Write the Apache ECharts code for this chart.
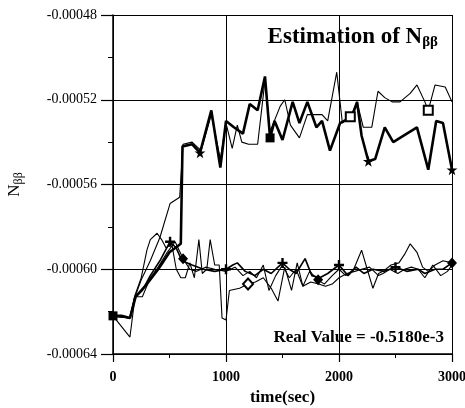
<!DOCTYPE html>
<html>
<head>
<meta charset="utf-8">
<script src="https://cdn.jsdelivr.net/npm/echarts@6/dist/echarts.min.js"></script>
<style>
  html, body { margin: 0; padding: 0; background: #fff; }
  #chart { width: 465px; height: 408px; }
</style>
</head>
<body>
<div id="chart"></div>
<script>
// Estimates of N_ββ over time, values stored in units of 1e-6.
const SCALE = 1e-6;
const realValue = -518.0;          // true N_ββ (-0.5180e-3)

const xTicks = [0, 1000, 2000, 3000];
const yTicks = [-640, -600, -560, -520, -480];

// Upper group (heavy line with stars)
const estHeavy = [
  [0, -622], [75, -622], [150, -623], [200, -613], [300, -607], [400, -600],
  [500, -592], [600, -588], [615, -542], [700, -541], [770, -545], [870, -525],
  [950, -552], [1000, -530], [1070, -533], [1150, -536], [1210, -522], [1280, -525],
  [1345, -509], [1390, -538], [1430, -530], [1500, -539], [1590, -521], [1650, -531],
  [1720, -521], [1800, -533], [1850, -530], [1920, -544], [2010, -531], [2115, -528],
  [2160, -521], [2200, -537], [2260, -549], [2320, -548], [2405, -533], [2480, -540],
  [2540, -538], [2690, -533], [2790, -553], [2860, -530], [2920, -531], [3000, -553]
];
const marksHeavy = { 0: 'square', 770: 'star', 1390: 'square', 2260: 'star', 3000: 'star' };

// Upper group (light line with open squares)
const estLight = [
  [0, -622], [150, -632], [195, -613], [250, -605], [330, -596], [415, -585],
  [505, -569], [590, -566], [620, -541], [700, -540], [780, -544], [870, -527],
  [950, -548], [1000, -531], [1055, -543], [1100, -532], [1140, -540], [1200, -541],
  [1280, -541], [1345, -511], [1390, -535], [1480, -523], [1520, -520], [1570, -532],
  [1650, -538], [1720, -527], [1780, -527], [1850, -527], [1900, -530], [1980, -507],
  [2030, -531], [2100, -528], [2160, -521], [2215, -533], [2290, -533], [2345, -516],
  [2405, -519], [2470, -521], [2540, -521], [2630, -517], [2690, -513], [2760, -521],
  [2790, -525], [2850, -513], [2940, -514], [3000, -521]
];
const marksLight = { 2100: 'openSquare', 2790: 'openSquare' };

// Lower group (plus markers)
const estPlus = [
  [0, -622], [150, -623], [195, -613], [260, -610], [330, -603], [415, -596],
  [505, -587], [560, -590], [610, -596], [700, -598], [800, -600], [900, -601],
  [1000, -600], [1060, -598], [1100, -597], [1170, -601], [1255, -603], [1330, -600],
  [1400, -602], [1500, -597], [1560, -600], [1620, -602], [1700, -595], [1760, -603],
  [1830, -604], [1900, -602], [2000, -598], [2080, -603], [2150, -599], [2220, -602],
  [2300, -600], [2400, -601], [2500, -599], [2600, -601], [2700, -600], [2760, -602],
  [2850, -600], [2920, -600], [3000, -597]
];
const marksPlus = { 505: 'plus', 1000: 'plus', 1500: 'plus', 2000: 'plus', 2500: 'plus' };

// Lower group (filled diamonds)
const estDiamond = [
  [0, -622], [150, -623], [195, -613], [260, -613], [330, -604], [400, -599],
  [480, -592], [550, -587], [620, -595], [680, -600], [740, -601], [820, -599],
  [900, -600], [1000, -601], [1080, -599], [1150, -603], [1210, -601], [1270, -604],
  [1330, -598], [1380, -610], [1440, -603], [1500, -598], [1560, -604], [1620, -600],
  [1680, -608], [1740, -601], [1815, -605], [1870, -607], [1940, -603], [2000, -600],
  [2060, -603], [2130, -600], [2200, -591], [2250, -600], [2300, -609], [2350, -602],
  [2390, -601], [2460, -598], [2530, -597], [2580, -593], [2630, -588], [2690, -592],
  [2740, -599], [2790, -601], [2850, -598], [2920, -596], [3000, -597]
];
const marksDiamond = { 620: 'diamond', 1815: 'diamond', 3000: 'diamond' };

// Lower group (open diamonds)
const estOpenDiamond = [
  [0, -622], [150, -623], [190, -613], [250, -604], [300, -591], [330, -586],
  [390, -583], [430, -586], [470, -590], [520, -588], [560, -600], [600, -604],
  [640, -604], [680, -597], [720, -604], [760, -586], [790, -602], [830, -600],
  [860, -586], [900, -598], [940, -598], [965, -623], [1000, -624], [1030, -610],
  [1120, -609], [1195, -607], [1260, -606], [1330, -604], [1400, -609], [1460, -615],
  [1520, -599], [1580, -610], [1630, -597], [1680, -608], [1750, -606], [1820, -607],
  [1880, -608], [1940, -607], [2000, -604], [2070, -602], [2140, -601], [2200, -600],
  [2270, -599], [2350, -603], [2390, -602], [2450, -600], [2520, -602], [2580, -600],
  [2640, -599], [2700, -600], [2760, -604], [2830, -598], [2900, -603], [2960, -601],
  [3000, -598]
];
const marksOpenDiamond = { 1195: 'openDiamond' };

const STAR = 'path://M50,0 L61,35 L98,35 L68,57 L79,91 L50,70 L21,91 L32,57 L2,35 L39,35 Z';
const PLUS = 'path://M38,0 H62 V38 H100 V62 H62 V100 H38 V62 H0 V38 H38 Z';
const MARKERS = {
  square:      { symbol: 'rect', symbolSize: 9, itemStyle: { color: '#000' } },
  openSquare:  { symbol: 'rect', symbolSize: 9, itemStyle: { color: '#fff', borderColor: '#000', borderWidth: 2 } },
  star:        { symbol: STAR, symbolSize: 11, itemStyle: { color: '#000' } },
  plus:        { symbol: PLUS, symbolSize: 10, itemStyle: { color: '#000' } },
  diamond:     { symbol: 'diamond', symbolSize: [10, 11], itemStyle: { color: '#000' } },
  openDiamond: { symbol: 'diamond', symbolSize: [10, 11], itemStyle: { color: '#fff', borderColor: '#000', borderWidth: 2 } }
};

function lineSeries(points, marks, width, extra) {
  return Object.assign({
    type: 'line',
    symbol: 'none',
    showSymbol: true,
    silent: true,
    animation: false,
    lineStyle: { color: '#000', width: width },
    itemStyle: { color: '#000' },
    data: points.map(([t, v]) => {
      const item = { value: [t, v * SCALE] };
      if (marks[t]) Object.assign(item, MARKERS[marks[t]]);
      else item.symbol = 'none';
      return item;
    })
  }, extra || {});
}

const serif = '"Liberation Serif", "DejaVu Serif", serif';

const chart = echarts.init(document.getElementById('chart'), null, { renderer: 'canvas' });
chart.setOption({
  backgroundColor: '#fff',
  animation: false,
  grid: { left: 113, right: 13, top: 15, bottom: 54, outerBoundsMode: 'none' },
  title: {
    text: '{a|Estimation of N}{s|ββ}',
    right: 22, top: 19,
    textStyle: {
      rich: {
        a: { fontFamily: serif, fontWeight: 'bold', fontSize: 23, color: '#000' },
        s: { fontFamily: serif, fontSize: 15, color: '#000', padding: [11, 0, 0, 0] }
      }
    }
  },
  graphic: [{
    type: 'text', right: 21, top: 329,
    style: { text: 'Real Value = -0.5180e-3', fontFamily: serif, fontWeight: 'bold', fontSize: 17, fill: '#000' }
  }],
  xAxis: {
    type: 'value', min: xTicks[0], max: xTicks[xTicks.length - 1], interval: xTicks[1] - xTicks[0],
    name: 'time(sec)', nameLocation: 'middle', nameGap: 34,
    nameTextStyle: { fontFamily: serif, fontWeight: 'bold', fontSize: 17, color: '#000' },
    axisLine: { lineStyle: { color: '#000', width: 1.5 } },
    axisTick: { show: true, length: 8, lineStyle: { color: '#000', width: 1.2 } },
    minorTick: { show: true, splitNumber: 2, length: 4, lineStyle: { color: '#000' } },
    axisLabel: {
      margin: 16, fontFamily: serif, fontWeight: 'bold', fontSize: 14, color: '#000',
      formatter: v => String(v)
    },
    splitLine: { show: true, lineStyle: { color: '#000', width: 1 } }
  },
  yAxis: {
    type: 'value', min: yTicks[0] * SCALE, max: yTicks[yTicks.length - 1] * SCALE,
    interval: (yTicks[1] - yTicks[0]) * SCALE,
    name: '{a|N}{s|ββ}', nameLocation: 'middle', nameGap: 88, nameRotate: 90,
    nameTextStyle: {
      rich: {
        a: { fontFamily: serif, fontSize: 17, color: '#000' },
        s: { fontFamily: serif, fontSize: 12, color: '#000', padding: [8, 0, 0, 0] }
      }
    },
    axisLine: { lineStyle: { color: '#000', width: 1.5 } },
    axisTick: { show: true, length: 12, lineStyle: { color: '#000', width: 1.2 } },
    minorTick: { show: true, splitNumber: 2, length: 5, lineStyle: { color: '#000' } },
    axisLabel: {
      margin: 16, fontFamily: serif, fontSize: 14, color: '#000',
      formatter: v => v.toFixed(5)
    },
    splitLine: { show: true, lineStyle: { color: '#000', width: 1 } }
  },
  series: [
    lineSeries(estOpenDiamond, marksOpenDiamond, 1.1),
    lineSeries(estDiamond, marksDiamond, 1.1),
    lineSeries(estPlus, marksPlus, 1.6),
    lineSeries(estLight, marksLight, 1.1),
    lineSeries(estHeavy, marksHeavy, 2.6, {
      markLine: {
        silent: true, symbol: 'none', label: { show: false },
        lineStyle: { color: '#000', type: [7, 5], width: 1.6 },
        data: [{ yAxis: realValue * SCALE }]
      }
    })
  ]
});
</script>
</body>
</html>
